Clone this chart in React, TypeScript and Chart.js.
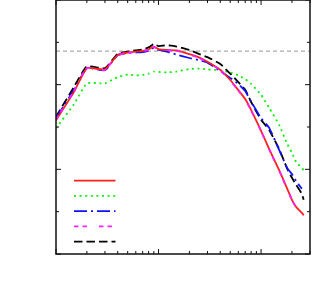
import React, { useEffect, useRef } from "react";
import { Chart, registerables } from "chart.js";

Chart.register(...registerables);

const xValues = [1, 1.5, 2, 3, 4, 5, 6, 7, 8, 9, 10, 12, 15, 20, 25, 30, 40, 50, 60, 70, 80, 100, 120, 150, 180, 200, 220, 250, 260];

const redValues = [31.6, 38.3, 43.9, 43.6, 47.0, 47.6, 47.8, 48.0, 48.3, 49.0, 48.4, 48.2, 48.1, 47.2, 46.4, 45.4, 43.5, 41.1, 38.7, 36.6, 34.0, 29.1, 24.8, 19.8, 15.4, 12.8, 11.1, 9.7, 9.2];
const greenValues = [29.7, 35.4, 40.3, 40.3, 41.8, 42.4, 42.2, 42.3, 42.6, 43.1, 43.0, 42.9, 43.1, 43.7, 43.8, 43.6, 43.4, 42.9, 42.2, 41.3, 40.2, 37.6, 34.5, 30.5, 26.0, 23.9, 21.7, 20.3, 19.8];
const blueValues = [32.1, 38.8, 43.9, 43.4, 47.0, 47.5, 47.6, 47.7, 48.0, 48.7, 48.2, 47.8, 47.1, 46.3, 45.8, 45.2, 43.2, 41.6, 40.2, 38.5, 36.0, 32.1, 29.8, 24.6, 20.3, 18.9, 17.2, 15.4, null];
const magentaValues = [31.8, 38.5, 43.9, 43.5, 47.0, 47.5, 47.7, 47.9, 48.2, 48.9, 48.3, 48.1, 48.0, 47.1, 46.3, 45.3, 43.4, 41.0, 38.6, 36.5, 33.9, 29.0, 24.7, 19.7, 15.3, 12.7, 11.0, 9.6, 9.1];
const blackValues = [32.4, 39.5, 44.3, 43.9, 47.3, 47.8, 48.1, 48.3, 48.8, 49.6, 49.1, 49.3, 49.0, 48.2, 47.2, 46.5, 44.9, 42.6, 40.6, 38.8, 35.9, 31.7, 29.3, 24.8, 20.1, 18.0, 16.3, 14.2, 12.8];
const refLevel = 47.9;
const xRange = [1, 300];
const yRange = [0, 60];

const toPoints = (vals: (number | null)[]) =>
  vals.map((v, i) => ({ x: xValues[i], y: v }));

const legendStyles = [
  { color: "#ff2020", dash: [] as number[] },
  { color: "#10ee10", dash: [2, 3.6] },
  { color: "#1010ff", dash: [13, 4, 2, 4] },
  { color: "#ff20ff", dash: [4.5, 4, 4.5, 12] },
  { color: "#000000", dash: [8.5, 4] },
];

const framePlugin = {
  id: "frameTicks",
  afterDraw(chart: any) {
    const ctx = chart.ctx;
    const { left, right, top, bottom } = chart.chartArea;
    const xs = chart.scales.x;
    const ys = chart.scales.y;
    ctx.save();
    ctx.strokeStyle = "#111";
    ctx.lineWidth = 1.5;
    ctx.setLineDash([]);
    ctx.strokeRect(left, top, right - left, bottom - top);
    ctx.lineWidth = 1;
    const xTicks: { v: number; major: boolean }[] = [];
    for (const dec of [1, 10, 100]) {
      for (let m = 1; m <= 9; m++) {
        const v = dec * m;
        if (v >= xRange[0] && v <= xRange[1]) xTicks.push({ v, major: m === 1 });
      }
    }
    for (const t of xTicks) {
      const px = xs.getPixelForValue(t.v);
      const len = t.major ? 5 : 3;
      ctx.beginPath();
      ctx.moveTo(px, bottom);
      ctx.lineTo(px, bottom - len);
      ctx.moveTo(px, top);
      ctx.lineTo(px, top + len);
      ctx.stroke();
    }
    for (let v = yRange[0]; v <= yRange[1]; v += 10) {
      const py = ys.getPixelForValue(v);
      const len = v % 20 === 0 ? 5 : 3;
      ctx.beginPath();
      ctx.moveTo(left, py);
      ctx.lineTo(left + len, py);
      ctx.moveTo(right, py);
      ctx.lineTo(right - len, py);
      ctx.stroke();
    }
    const lx0 = left + 18;
    const lx1 = left + 59.5;
    legendStyles.forEach((s, i) => {
      const ly = bottom - 73.3 + i * 15.25;
      ctx.beginPath();
      ctx.strokeStyle = s.color;
      ctx.lineWidth = 1.8;
      ctx.setLineDash(s.dash);
      ctx.moveTo(lx0, ly);
      ctx.lineTo(lx1, ly);
      ctx.stroke();
    });
    ctx.restore();
  },
};

export default function App() {
  const ref = useRef<HTMLCanvasElement | null>(null);
  useEffect(() => {
    if (!ref.current) return;
    const chart = new Chart(ref.current, {
      type: "line",
      data: {
        datasets: [
          { data: toPoints(redValues), borderColor: "#ff2020", borderWidth: 1.8, pointRadius: 0, order: 1, tension: 0.15 },
          { data: toPoints(greenValues), borderColor: "#10ee10", borderWidth: 1.8, borderDash: [2, 3.6], pointRadius: 0, order: 4, tension: 0.15 },
          { data: toPoints(blueValues), borderColor: "#1010ff", borderWidth: 1.8, borderDash: [13, 4, 2, 4], pointRadius: 0, order: 2, tension: 0.15 },
          { data: toPoints(magentaValues), borderColor: "#ff20ff", borderWidth: 1.8, borderDash: [4.5, 4, 4.5, 12], pointRadius: 0, order: 0, tension: 0.15 },
          { data: toPoints(blackValues), borderColor: "#000000", borderWidth: 1.8, borderDash: [8.5, 4], pointRadius: 0, order: 3, tension: 0.15 },
          {
            data: [{ x: xRange[0], y: refLevel }, { x: xRange[1], y: refLevel }],
            borderColor: "#aaaaaa",
            borderWidth: 1.2,
            borderDash: [4, 3],
            pointRadius: 0,
            order: 5,
          },
        ],
      },
      options: {
        responsive: false,
        animation: false,
        devicePixelRatio: 1,
        layout: { padding: { left: 56, right: 19, top: 0, bottom: 46 } },
        plugins: { legend: { display: false }, tooltip: { enabled: false } },
        scales: {
          x: { type: "logarithmic", min: xRange[0], max: xRange[1], display: false },
          y: { type: "linear", min: yRange[0], max: yRange[1], display: false },
        },
      },
      plugins: [framePlugin],
    });
    return () => chart.destroy();
  }, []);
  return (
    <div style={{ position: "absolute", left: 0, top: 0, width: 329, height: 300 }}>
      <canvas ref={ref} width={329} height={300} style={{ width: 329, height: 300 }} />
    </div>
  );
}
